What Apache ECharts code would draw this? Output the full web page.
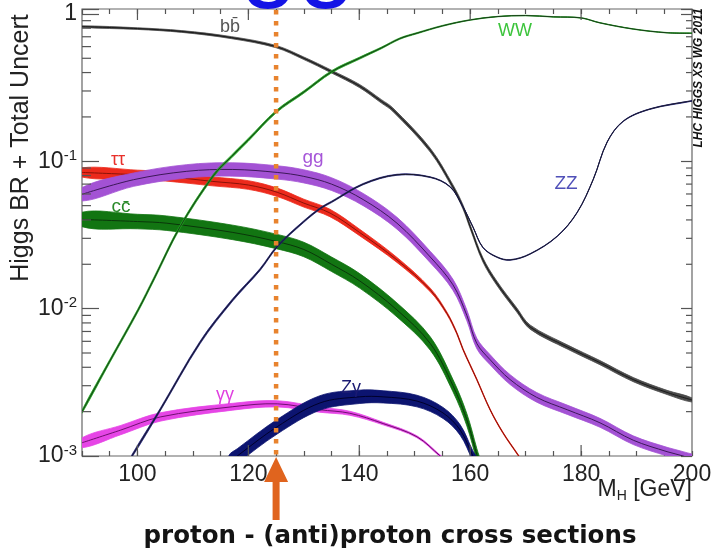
<!DOCTYPE html>
<html>
<head>
<meta charset="utf-8">
<title>Higgs branching ratios</title>
<script src="https://cdn.jsdelivr.net/npm/echarts@6/dist/echarts.min.js"></script>
<style>
  html, body { margin: 0; padding: 0; background: #fff; }
  #chart { width: 713px; height: 556px; }
</style>
</head>
<body>
<div id="chart"></div>
<script>
// Higgs boson branching ratios vs. mass, each point is [M_H (GeV), BR, relative uncertainty]
const brBB = [
  [90, 0.82, 0.012], [100, 0.795, 0.013], [108, 0.76, 0.014], [117, 0.69, 0.016],
  [125, 0.60, 0.018], [130, 0.50, 0.02], [135, 0.406, 0.022], [140, 0.325, 0.025],
  [144, 0.255, 0.027], [146, 0.225, 0.028], [152.8, 0.119, 0.03], [156.9, 0.067, 0.032],
  [158.7, 0.049, 0.032], [160, 0.036, 0.032], [162.3, 0.0214, 0.033], [164.8, 0.0149, 0.033],
  [168.4, 0.0098, 0.033], [170.8, 0.0075, 0.033], [177.5, 0.0055, 0.033], [183.4, 0.0043, 0.033],
  [189.4, 0.0033, 0.033], [195.5, 0.0027, 0.033], [200, 0.0024, 0.033]
];
const brWW = [
  [90, 0.0020, 0.025], [95, 0.0044, 0.025], [100, 0.0096, 0.025], [103, 0.016, 0.025],
  [107.7, 0.036, 0.025], [113.7, 0.080, 0.024], [117, 0.108, 0.023], [120, 0.140, 0.022],
  [125, 0.217, 0.02], [130, 0.295, 0.019], [135, 0.405, 0.018], [140, 0.50, 0.016],
  [144, 0.588, 0.013], [147.3, 0.68, 0.011], [150.4, 0.74, 0.009], [155, 0.83, 0.007],
  [160, 0.91, 0.005], [165, 0.96, 0.004], [170, 0.975, 0.004], [175, 0.955, 0.004],
  [180, 0.94, 0.004], [183.4, 0.87, 0.004], [189.4, 0.79, 0.004], [195.5, 0.745, 0.004],
  [200, 0.74, 0.004]
];
const brZZ = [
  [99, 0.001, 0.02], [104.1, 0.00206, 0.02], [111.3, 0.0059, 0.02], [117.2, 0.0115, 0.018],
  [122.1, 0.0184, 0.016], [125.2, 0.0264, 0.015], [130, 0.039, 0.013], [133, 0.048, 0.012],
  [135, 0.053, 0.011], [140.7, 0.070, 0.01], [146.8, 0.081, 0.008], [152.8, 0.078, 0.006],
  [156.4, 0.067, 0.005], [158.7, 0.049, 0.005], [160.5, 0.0358, 0.005], [162.3, 0.026, 0.005],
  [164.8, 0.0224, 0.005], [167.2, 0.0214, 0.005], [170.8, 0.0235, 0.005], [175.7, 0.031, 0.005],
  [179.3, 0.045, 0.005], [182.2, 0.0755, 0.005], [184.7, 0.135, 0.005], [187.6, 0.187, 0.005],
  [192.4, 0.226, 0.005], [200, 0.257, 0.005]
];
const brTauTau = [
  [90, 0.084, 0.075], [100, 0.081, 0.075], [105, 0.079, 0.075], [113.6, 0.073, 0.072],
  [120, 0.069, 0.07], [125.2, 0.0616, 0.068], [130, 0.052, 0.064], [134.7, 0.0446, 0.06],
  [140, 0.033, 0.052], [146.8, 0.0214, 0.04], [152.8, 0.0134, 0.028], [155.8, 0.0093, 0.02],
  [157.6, 0.0068, 0.016], [158.7, 0.0053, 0.014], [161.2, 0.0033, 0.012], [163.6, 0.00206, 0.01],
  [165.9, 0.00144, 0.01], [168.6, 0.00102, 0.01], [170, 0.00085, 0.01]
];
const brGG = [
  [90, 0.0597, 0.11], [99.3, 0.075, 0.11], [108.9, 0.0855, 0.11], [117.2, 0.088, 0.11],
  [125.2, 0.084, 0.11], [130, 0.079, 0.108], [135, 0.070, 0.105], [140.7, 0.055, 0.1],
  [146.8, 0.038, 0.097], [152.8, 0.0224, 0.093], [156.9, 0.0145, 0.09], [159.4, 0.009, 0.088],
  [161.2, 0.0058, 0.085], [163.6, 0.0045, 0.082], [167.2, 0.0033, 0.08], [172, 0.0025, 0.078],
  [177.5, 0.00206, 0.075], [183.4, 0.00168, 0.072], [189.4, 0.00128, 0.07], [195.5, 0.00107, 0.07],
  [198.4, 0.001, 0.07], [201, 0.00092, 0.07]
];
const brCC = [
  [90, 0.0403, 0.12], [100, 0.039, 0.12], [105.3, 0.038, 0.12], [117.2, 0.0329, 0.12],
  [125, 0.0286, 0.12], [130, 0.0252, 0.12], [135, 0.020, 0.12], [140, 0.0155, 0.12],
  [146.8, 0.0098, 0.115], [152.8, 0.0058, 0.11], [156.9, 0.0030, 0.1], [159.4, 0.00176, 0.1],
  [161.2, 0.00102, 0.1], [162, 0.0008, 0.1]
];
const brGamGam = [
  [90, 0.00123, 0.08], [97, 0.0015, 0.075], [104.1, 0.00184, 0.068], [117.2, 0.00216, 0.055],
  [125.2, 0.00226, 0.05], [132.9, 0.00206, 0.04], [138.3, 0.00195, 0.032], [144.3, 0.00166, 0.02],
  [150.4, 0.00135, 0.015], [154.6, 0.001, 0.015], [156, 0.0009, 0.015]
];
const brZGam = [
  [116.5, 0.0009, 0.12], [118, 0.001, 0.12], [125.2, 0.00158, 0.12], [132.9, 0.00229, 0.12],
  [140, 0.00252, 0.11], [144.3, 0.00252, 0.1], [150.4, 0.00236, 0.095], [155.1, 0.00196, 0.09],
  [158.2, 0.0015, 0.085], [160.5, 0.001, 0.08], [161.2, 0.0009, 0.08]
];

// Observed Higgs mass marker
const higgsMass = 125;

// Axis ranges and tick positions
const massRange = [90, 200];
const brRange = [0.001, 1.08];
const massTickLabels = [100, 120, 140, 160, 180, 200];
const massTickStep = 5;
const massMajorTicks = [100, 120, 140, 160, 180];
const brDecades = [0.001, 0.01, 0.1, 1];
const brMinorTicks = [
  0.002, 0.003, 0.004, 0.005, 0.006, 0.007, 0.008, 0.009,
  0.02, 0.03, 0.04, 0.05, 0.06, 0.07, 0.08, 0.09,
  0.2, 0.3, 0.4, 0.5, 0.6, 0.7, 0.8, 0.9
];

const FONT = "'Liberation Sans', Arial, sans-serif";
const TICK = '#555555';

// Channel drawing order and colours
const channels = [
  { name: 'ττ', data: brTauTau, fill: '#ec2a1c', line: '#8a1208' },
  { name: 'gg', data: brGG, fill: '#a352d4', line: '#3c1858' },
  { name: 'cc̄', data: brCC, fill: '#127512', line: '#0a360a' },
  { name: 'γγ', data: brGamGam, fill: '#e645e6', line: '#701070' },
  { name: 'Zγ', data: brZGam, fill: '#0c1470', line: '#00002a' },
  { name: 'bb̄', data: brBB, fill: '#4a4a4a', line: '#1a1a1a' },
  { name: 'WW', data: brWW, fill: '#1fa51f', line: '#1a3a1a' },
  { name: 'ZZ', data: brZZ, fill: '#22227a', line: '#1a1a2a' }
];

function bandSeries(ch) {
  const pts = ch.data;
  return {
    type: 'custom',
    name: ch.name,
    coordinateSystem: 'cartesian2d',
    clip: true,
    silent: true,
    data: pts,
    encode: { x: 0, y: 1 },
    renderItem: function (params, api) {
      if (params.dataIndex !== 0) return;
      const upper = pts.map(p => api.coord([p[0], p[1] * (1 + p[2])]));
      const lower = pts.map(p => api.coord([p[0], p[1] / (1 + p[2])]));
      const center = pts.map(p => api.coord([p[0], p[1]]));
      // band outline: upper edge forward, lower edge back
      return {
        type: 'group',
        children: [
          { type: 'polygon', shape: { points: upper.concat(lower.slice().reverse()), smooth: 0.35 },
            style: { fill: ch.fill, stroke: ch.fill, lineWidth: 0.8 } },
          { type: 'polyline', shape: { points: center, smooth: 0.35 },
            style: { stroke: ch.line, lineWidth: 1, fill: null } }
        ]
      };
    }
  };
}

// Longer ticks at labelled masses and minor log ticks, as thin rectangle symbols on the frame
function tickMarks(points, size, offset) {
  return {
    type: 'scatter',
    silent: true,
    clip: false,
    z: 9,
    symbol: 'rect',
    symbolSize: size,
    symbolOffset: offset,
    itemStyle: { color: TICK, opacity: 1 },
    data: points
  };
}
const tickSeries = [
  tickMarks(massMajorTicks.map(m => [m, brRange[0]]), [1.2, 11], [0, -5.5]),
  tickMarks(massMajorTicks.map(m => [m, brRange[1]]), [1.2, 11], [0, 5.5]),
  tickMarks(brMinorTicks.map(v => [massRange[0], v]), [9, 1.2], [4.5, 0]),
  tickMarks(brMinorTicks.map(v => [massRange[1], v]), [6, 1.2], [-3, 0])
];

// Dotted line at the Higgs mass and the arrow below the axis
const markerSeries = {
  type: 'custom',
  name: 'higgsMass',
  coordinateSystem: 'cartesian2d',
  silent: true,
  clip: false,
  z: 8,
  data: [[higgsMass, brRange[0]]],
  encode: { x: 0, y: 1 },
  renderItem: function (params, api) {
    const top = api.coord([higgsMass, brRange[1]]);
    const bot = api.coord([higgsMass, brRange[0]]);
    const x = bot[0], y = bot[1];
    return { type: 'group', children: [
      { type: 'line', shape: { x1: x, y1: top[1] + 1, x2: x, y2: y - 1 },
        style: { stroke: '#e8832e', lineWidth: 4.5, lineDash: [4.5, 6.5] } },
      { type: 'polygon', shape: { points: [
          [x, y + 1], [x + 12, y + 26], [x + 3.5, y + 26], [x + 3.5, y + 64],
          [x - 3.5, y + 64], [x - 3.5, y + 26], [x - 12, y + 26]] },
        style: { fill: '#e0641e' } }
    ] };
  }
};

function channelLabel(text, x, y, color, size) {
  return { type: 'text', x, y, z: 50,
    style: { text, fill: color, font: (size || 18) + 'px ' + FONT, align: 'center', verticalAlign: 'middle' } };
}

const frameTick = (len) => ({ show: true, inside: true, length: len, lineStyle: { color: TICK, width: 1.2 } });

const chart = echarts.init(document.getElementById('chart'), null, { renderer: 'canvas' });
chart.setOption({
  animation: false,
  backgroundColor: '#fff',
  grid: {
    left: 82, right: 21, top: 9, bottom: 100,
    show: true, borderColor: '#666', borderWidth: 1.2,
    containLabel: false, outerBoundsMode: 'none'
  },
  xAxis: [{
    type: 'value', min: massRange[0], max: massRange[1], interval: massTickStep,
    axisLine: { show: false }, axisTick: frameTick(5), splitLine: { show: false },
    axisLabel: {
      margin: 7, fontSize: 23, fontFamily: FONT, color: '#222',
      formatter: v => (massTickLabels.indexOf(v) >= 0 ? String(v) : '')
    }
  }, {
    type: 'value', position: 'top', min: massRange[0], max: massRange[1], interval: massTickStep,
    axisLine: { show: false }, axisTick: frameTick(5), splitLine: { show: false },
    axisLabel: { show: false }
  }],
  yAxis: [{
    type: 'log', logBase: 10, min: brRange[0], max: brRange[1],
    axisLine: { show: false }, axisTick: frameTick(17), splitLine: { show: false },
    axisLabel: {
      margin: 5, fontFamily: FONT, color: '#222',
      formatter: function (v) {
        const lg = Math.log10(v);
        const e = Math.round(lg);
        if (Math.abs(lg - e) > 1e-6 || e > 0) return '';
        if (e === 0) return '{b|1}';
        return '{b|10}{s|' + e + '}';
      },
      rich: {
        b: { fontSize: 23, fontFamily: FONT, color: '#222' },
        s: { fontSize: 15, fontFamily: FONT, color: '#222', padding: [0, 0, 11, 0] }
      }
    }
  }, {
    type: 'log', logBase: 10, position: 'right', min: brRange[0], max: brRange[1],
    axisLine: { show: false }, axisTick: frameTick(11), splitLine: { show: false },
    axisLabel: { show: false }
  }],
  graphic: [
    // partial heading above the plot
    { type: 'text', x: 298, y: -42, z: 60,
      style: { text: 'gg', fill: '#1414e6', font: '104px ' + FONT, align: 'center', verticalAlign: 'middle' } },
    { type: 'text', x: 21, y: 148, rotation: Math.PI / 2, z: 50,
      style: { text: 'Higgs BR + Total Uncert', fill: '#222', font: '25px ' + FONT, align: 'center', verticalAlign: 'middle' } },
    { type: 'text', x: 692, y: 490, z: 50,
      style: { text: '{m|M}{h|H}{m| [GeV]}', align: 'right', verticalAlign: 'middle',
        rich: {
          m: { fontSize: 23, fontFamily: FONT, fill: '#222', color: '#222' },
          h: { fontSize: 14, fontFamily: FONT, fill: '#222', color: '#222', padding: [12, 0, 0, 0] }
        } } },
    { type: 'text', x: 699, y: 78, rotation: Math.PI / 2, z: 50,
      style: { text: 'LHC HIGGS XS WG 2011', fill: '#111', font: 'italic bold 12px ' + FONT, align: 'center', verticalAlign: 'middle' } },
    { type: 'text', x: 390, y: 537, z: 50,
      style: { text: 'proton - (anti)proton cross sections', fill: '#141414', font: "bold 24.5px 'DejaVu Sans', sans-serif", align: 'center', verticalAlign: 'middle' } },
    channelLabel('bb̄', 230, 27, '#555555', 18),
    channelLabel('ττ', 118, 160, '#e8302a', 18),
    channelLabel('gg', 313, 158, '#a656d8', 19),
    channelLabel('cc̄', 121, 207, '#2a8a2a', 19),
    channelLabel('WW', 515, 31, '#3cc43c', 18),
    channelLabel('ZZ', 566, 184, '#5050b8', 19),
    channelLabel('γγ', 225, 395, '#e040e0', 18),
    channelLabel('Zγ', 351, 388, '#1a1a72', 18)
  ],
  series: channels.map(bandSeries).concat(tickSeries, [markerSeries])
});
</script>
</body>
</html>
